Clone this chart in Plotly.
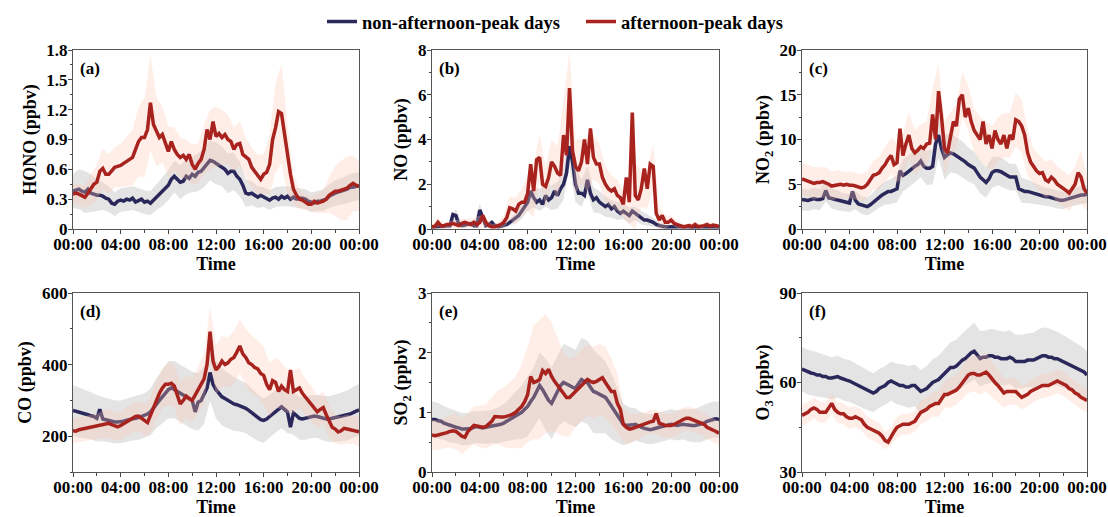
import numpy as np
import plotly.graph_objects as go

# ---------------- data (15-min means, 00:00 .. 24:00) ----------------
time_ticks = [0, 4, 8, 12, 16, 20, 24]
time_labels = ["00:00", "04:00", "08:00", "12:00", "16:00", "20:00", "00:00"]
series_names = ["non-afternoon-peak days", "afternoon-peak days"]
panel_labels = ["(a)", "(b)", "(c)", "(d)", "(e)", "(f)"]
y_titles = ["HONO (ppbv)", "NO (ppbv)", "NO<sub>2</sub> (ppbv)",
            "CO (ppbv)", "SO<sub>2</sub> (ppbv)", "O<sub>3</sub> (ppbv)"]

hono_non = [0.38,0.39,0.40,0.38, 0.37,0.40,0.36,0.35, 0.34,0.34,0.33,0.31, 0.30,0.26,0.25,0.28,
            0.29,0.28,0.30,0.29, 0.31,0.27,0.29,0.30, 0.27,0.28,0.26,0.29, 0.32,0.35,0.38,0.41,
            0.44,0.50,0.53,0.50, 0.47,0.48,0.53,0.51, 0.55,0.53,0.57,0.58, 0.62,0.65,0.69,0.68,
            0.66,0.65,0.63,0.60, 0.56,0.58,0.58,0.53, 0.50,0.44,0.36,0.35, 0.36,0.34,0.32,0.34,
            0.32,0.31,0.29,0.31, 0.32,0.30,0.33,0.31, 0.33,0.30,0.32,0.30, 0.31,0.31,0.30,0.28,
            0.27,0.26,0.28,0.28, 0.29,0.30,0.33,0.35, 0.36,0.37,0.38,0.39, 0.40,0.42,0.42,0.43, 0.43]
hono_peak = [0.35,0.36,0.35,0.33, 0.32,0.36,0.40,0.45, 0.47,0.58,0.61,0.55, 0.55,0.58,0.62,0.63,
             0.64,0.66,0.68,0.69, 0.72,0.80,0.88,0.92, 0.92,1.00,1.27,1.05, 0.98,0.92,0.95,0.85,
             0.78,0.88,0.80,0.75, 0.72,0.74,0.70,0.75, 0.65,0.60,0.66,0.70, 0.80,1.00,0.90,1.08,
             0.93,0.96,0.92,0.95, 0.90,0.88,0.80,0.85, 0.86,0.75,0.72,0.70, 0.62,0.58,0.55,0.50,
             0.55,0.57,0.65,0.90, 1.02,1.18,1.16,0.95, 0.70,0.55,0.40,0.34, 0.30,0.29,0.27,0.25,
             0.25,0.28,0.26,0.27, 0.28,0.30,0.34,0.36, 0.38,0.38,0.39,0.40, 0.41,0.44,0.46,0.44, 0.43]

no_non = [0.10,0.10,0.12,0.10, 0.12,0.15,0.15,0.65, 0.60,0.20,0.15,0.18, 0.20,0.25,0.15,0.15,
          0.85,0.50,0.15,0.20, 0.30,0.15,0.10,0.12, 0.15,0.20,0.30,0.40, 0.50,0.60,0.80,1.00,
          1.20,1.70,1.40,1.20, 1.30,1.10,1.50,1.30, 1.40,1.70,1.50,1.80, 2.00,2.50,3.70,3.00,
          2.00,1.60,1.60,1.50, 2.20,1.60,1.30,1.40, 1.20,1.10,1.00,1.10, 0.90,1.00,0.80,0.70,
          0.80,0.70,0.60,0.80, 0.70,0.60,0.50,0.40, 0.40,0.35,0.30,0.20, 0.15,0.12,0.10,0.10,
          0.10,0.10,0.12,0.10, 0.10,0.10,0.12,0.10, 0.10,0.10,0.10,0.12, 0.10,0.10,0.10,0.10, 0.10]
no_peak = [0.10,0.12,0.30,0.15, 0.15,0.20,0.20,0.25, 0.20,0.15,0.25,0.30, 0.25,0.20,0.30,0.20,
           0.30,0.60,0.30,0.15, 0.10,0.10,0.15,0.20, 0.30,0.50,0.95,0.90, 0.80,1.10,1.20,1.20,
           1.60,2.90,1.70,3.10, 3.20,2.00,1.90,2.30, 3.00,2.80,2.50,2.40, 4.20,3.30,6.30,3.50,
           2.80,2.60,3.00,4.00, 2.90,4.50,3.20,2.90, 2.90,2.30,2.00,1.80, 1.70,1.80,1.50,1.40,
           1.10,2.30,1.20,5.20, 1.50,1.30,1.80,2.70, 1.80,2.90,2.80,0.70, 0.40,0.60,0.30,0.30,
           0.40,0.25,0.20,0.15, 0.10,0.12,0.15,0.10, 0.20,0.10,0.12,0.15, 0.20,0.12,0.18,0.15, 0.12]

no2_non = [3.3,3.2,3.2,3.3, 3.4,3.3,3.3,3.4, 4.3,3.5,3.4,3.3, 3.2,3.1,3.0,2.9,
           2.9,4.2,3.2,2.8, 2.7,2.6,2.5,2.7, 3.0,3.3,3.6,3.8, 4.0,4.2,4.2,4.3,
           4.5,6.5,6.0,6.2, 6.5,6.8,7.0,7.2, 7.6,7.0,6.8,6.8, 7.0,9.5,10.5,9.0,
           8.0,8.3,8.5,8.4, 8.2,8.0,7.8,7.5, 7.2,7.0,6.8,6.3, 5.8,5.5,5.2,5.6,
           6.3,6.5,6.5,6.4, 6.2,6.0,5.8,5.8, 5.8,4.5,4.3,4.2, 4.2,4.1,4.0,3.9,
           3.8,3.7,3.6,3.6, 3.5,3.4,3.3,3.2, 3.2,3.3,3.5,3.5, 3.6,3.7,3.8,3.8, 3.9]
no2_peak = [5.6,5.5,5.4,5.2, 5.1,5.2,5.2,5.3, 5.2,5.0,4.8,4.9, 5.0,5.0,4.9,5.0,
            4.9,4.9,4.8,4.7, 4.6,4.7,5.0,5.5, 6.0,6.1,6.3,6.8, 7.2,7.8,8.2,7.2,
            7.4,11.2,8.2,9.5, 10.5,9.0,8.5,8.8, 9.2,9.0,9.5,9.6, 12.8,10.0,15.4,12.5,
            9.0,8.5,10.5,12.0, 11.5,14.5,15.0,12.5, 13.5,12.0,11.0,10.5, 10.0,12.0,9.5,10.5,
            9.0,11.0,10.0,9.5, 10.5,9.0,10.5,10.0, 12.2,12.0,11.5,10.5, 8.5,7.5,7.0,6.5,
            6.2,6.3,5.5,5.3, 5.8,5.5,5.0,4.8, 4.5,4.3,4.0,4.5, 5.0,6.3,5.8,4.5, 4.0]

co_non = [272,270,266,265, 262,260,257,255, 250,275,248,246, 243,242,240,240,
          240,242,245,246, 248,250,252,255, 258,262,268,280, 292,300,310,322,
          330,335,330,325, 320,315,310,305, 300,268,295,300, 315,335,378,345,
          330,320,310,305, 300,295,290,288, 285,282,278,272, 265,258,252,246,
          244,248,255,262, 270,278,282,275, 268,225,265,258, 250,248,250,252,
          255,256,255,252, 250,248,248,250, 250,252,254,256, 258,262,266,270, 274]
co_peak = [215,214,218,220, 222,222,225,226, 228,230,232,234, 236,232,228,226,
           230,235,240,245, 250,255,256,250, 245,238,258,280, 300,320,335,345,
           345,348,340,315, 290,300,312,305, 300,315,330,345, 360,400,492,410,
           385,395,410,400, 405,415,420,435, 452,430,420,405, 400,392,388,375,
           370,345,330,355, 350,325,340,330, 325,385,325,330, 335,320,310,300,
           290,280,268,275, 280,260,240,225, 220,212,215,222, 220,218,218,215, 212]

so2_non = [0.88,0.88,0.86,0.85, 0.82,0.80,0.78,0.77, 0.75,0.74,0.72,0.72, 0.72,0.73,0.75,0.76,
           0.75,0.74,0.75,0.76, 0.76,0.77,0.78,0.80, 0.82,0.85,0.88,0.92, 0.95,0.97,1.00,1.05,
           1.10,1.18,1.25,1.35, 1.45,1.38,1.30,1.20, 1.15,1.25,1.35,1.45, 1.50,1.48,1.45,1.42,
           1.40,1.48,1.55,1.52, 1.50,1.42,1.35,1.33, 1.30,1.28,1.25,1.18, 1.10,1.02,0.95,0.88,
           0.80,0.78,0.78,0.79, 0.80,0.77,0.75,0.73, 0.72,0.71,0.72,0.74, 0.75,0.76,0.78,0.79,
           0.80,0.79,0.78,0.79, 0.80,0.79,0.78,0.78, 0.78,0.79,0.80,0.82, 0.85,0.87,0.88,0.89, 0.88]
so2_peak = [0.62,0.61,0.62,0.63, 0.65,0.66,0.68,0.69, 0.68,0.64,0.60,0.58, 0.68,0.73,0.78,0.77,
            0.76,0.75,0.76,0.80, 0.85,0.93,0.92,0.92, 0.92,0.93,0.95,0.97, 1.00,1.05,1.10,1.18,
            1.30,1.60,1.50,1.52, 1.55,1.70,1.65,1.72, 1.60,1.52,1.45,1.38, 1.30,1.25,1.25,1.30,
            1.35,1.40,1.45,1.50, 1.55,1.52,1.50,1.52, 1.55,1.58,1.50,1.42, 1.35,1.35,1.15,1.05,
            0.80,0.75,0.72,0.73, 0.75,0.77,0.78,0.80, 0.82,0.84,0.85,0.98, 0.82,0.80,0.78,0.78,
            0.78,0.80,0.82,0.85, 0.88,0.90,0.90,0.88, 0.85,0.83,0.82,0.80, 0.75,0.73,0.70,0.68, 0.65]

o3_non = [64.5,64.0,63.5,63.2, 63.0,62.5,62.5,62.0, 62.0,61.5,61.5,61.8, 62.0,61.5,61.0,60.8,
          60.5,60.0,59.5,59.0, 58.5,58.0,57.5,57.0, 56.5,57.0,58.0,58.5, 59.0,60.0,60.5,60.0,
          59.5,59.0,59.0,58.5, 58.5,59.0,59.0,58.0, 57.0,57.5,58.0,59.0, 60.0,60.5,61.0,62.0,
          63.0,64.0,65.0,65.0, 65.5,66.5,67.5,68.0, 69.0,70.0,70.5,69.0, 68.0,68.5,68.5,69.0,
          69.0,68.5,68.5,68.0, 68.0,68.0,68.5,68.0, 67.0,67.0,67.0,67.0, 67.5,67.5,67.5,68.0,
          68.5,69.0,69.0,68.5, 68.5,68.0,68.0,67.5, 67.0,66.5,66.0,65.5, 65.0,64.5,64.0,63.5, 62.5]
o3_peak = [49.0,49.5,50.0,51.0, 51.5,51.0,50.0,50.0, 50.0,51.5,53.0,51.0, 50.0,49.5,49.5,48.5,
           48.0,48.0,48.5,48.0, 47.5,46.0,45.0,44.5, 44.0,43.5,43.0,42.0, 40.5,40.0,42.0,43.5,
           45.0,45.5,46.0,46.0, 46.0,46.5,47.0,48.5, 50.0,50.5,51.0,52.0, 52.5,53.0,53.0,54.5,
           56.0,56.0,56.5,57.0, 57.5,58.5,60.0,61.0, 62.5,63.0,63.0,62.5, 62.5,63.0,63.5,62.5,
           61.0,60.0,59.0,57.5, 56.5,57.0,57.0,57.0, 57.0,56.0,55.0,55.5, 56.0,57.0,57.5,58.0,
           58.5,59.0,59.0,59.0, 59.5,60.0,60.5,60.0, 59.5,59.0,58.0,57.5, 56.5,56.0,55.0,54.5, 54.0]

# half-width of the shaded bands (30-min steps, 00:00 .. 24:00)
hono_non_sd = [0.17,0.20,0.21,0.19,0.16,0.14,0.13,0.12,0.12,0.12,0.12,0.12,0.12,0.12,0.13,0.15,0.15,
               0.16,0.17,0.18,0.18,0.19,0.20,0.20,0.21,0.20,0.20,0.19,0.17,0.14,0.12,0.11,0.10,
               0.10,0.10,0.10,0.10,0.10,0.10,0.10,0.10,0.10,0.11,0.12,0.13,0.13,0.14,0.14,0.14]
hono_peak_sd = [0.10,0.10,0.12,0.15,0.18,0.20,0.20,0.20,0.22,0.25,0.28,0.35,0.40,0.48,0.35,0.28,0.25,
                0.22,0.20,0.20,0.20,0.20,0.25,0.30,0.30,0.28,0.25,0.22,0.22,0.20,0.20,0.20,0.20,
                0.30,0.45,0.50,0.35,0.15,0.10,0.08,0.08,0.10,0.12,0.18,0.25,0.30,0.32,0.28,0.25]
no_non_sd = [0.08,0.08,0.10,0.15,0.30,0.10,0.10,0.10,0.30,0.10,0.10,0.10,0.10,0.15,0.25,0.35,0.40,
             0.45,0.50,0.50,0.55,0.60,0.70,0.90,0.80,0.60,0.60,0.55,0.50,0.45,0.40,0.40,0.35,
             0.35,0.30,0.30,0.25,0.20,0.15,0.10,0.08,0.08,0.08,0.08,0.08,0.08,0.08,0.08,0.08]
no_peak_sd = [0.10,0.20,0.15,0.15,0.20,0.20,0.20,0.20,0.30,0.20,0.10,0.15,0.30,0.50,0.60,0.60,0.80,
              1.20,1.00,0.90,1.00,1.20,1.50,1.70,1.20,1.00,1.20,1.00,0.90,0.80,0.70,0.70,0.60,
              1.00,1.50,0.80,0.90,1.00,0.60,0.30,0.20,0.15,0.10,0.10,0.10,0.10,0.10,0.10,0.10]
no2_non_sd = [1.2,1.2,1.2,1.2,1.2,1.1,1.1,1.0,1.0,1.0,1.0,1.0,1.1,1.2,1.3,1.4,1.5,
              1.8,1.8,1.8,1.8,1.9,2.0,2.5,2.5,2.2,2.0,2.0,1.9,1.8,1.8,1.7,1.7,
              1.6,1.6,1.5,1.5,1.4,1.3,1.2,1.1,1.0,1.0,1.0,1.0,1.0,1.0,1.0,1.0]
no2_peak_sd = [1.8,1.8,1.8,1.7,1.7,1.6,1.6,1.5,1.5,1.5,1.5,1.5,1.6,1.8,2.0,2.0,2.2,
               2.5,2.5,2.5,2.5,2.5,3.0,3.0,3.0,2.5,2.5,2.5,2.5,2.5,2.5,2.5,2.5,
               2.5,2.5,2.5,3.0,3.0,2.5,2.0,2.0,2.0,2.0,2.0,2.0,2.0,2.0,3.0,2.0]
co_non_sd = [70,70,68,66,65,62,60,60,60,60,60,62,62,65,70,75,80,
             80,80,80,80,80,80,80,80,80,78,75,72,70,68,65,62,
             60,60,60,60,60,60,60,60,60,62,64,66,68,70,72,72]
co_peak_sd = [35,35,35,35,35,40,40,40,40,40,40,40,45,50,55,55,60,
              60,60,60,60,65,70,70,70,70,70,75,75,80,80,80,80,
              75,70,65,60,60,55,50,50,45,45,45,40,40,40,40,40]
so2_non_sd = [0.30,0.30,0.28,0.28,0.27,0.27,0.27,0.27,0.27,0.28,0.28,0.30,0.32,0.35,0.40,0.45,0.50,
              0.50,0.55,0.60,0.60,0.60,0.65,0.65,0.65,0.70,0.70,0.70,0.65,0.60,0.55,0.45,0.35,
              0.30,0.27,0.25,0.25,0.25,0.25,0.25,0.25,0.25,0.25,0.27,0.28,0.30,0.30,0.30,0.30]
so2_peak_sd = [0.25,0.25,0.25,0.27,0.30,0.30,0.30,0.32,0.35,0.37,0.40,0.45,0.50,0.55,0.60,0.70,0.80,
               0.95,1.00,1.00,0.90,0.80,0.70,0.65,0.60,0.60,0.60,0.60,0.60,0.60,0.55,0.50,0.30,
               0.25,0.22,0.20,0.20,0.20,0.20,0.20,0.20,0.20,0.20,0.20,0.20,0.20,0.20,0.20,0.20]
o3_non_sd = [7.5,7.5,7.5,7.3,7.2,7.0,7.0,7.0,7.0,7.0,6.8,6.7,6.5,6.5,6.5,6.5,6.8,
             7.0,7.0,7.0,7.2,7.5,7.8,8.0,8.2,8.5,8.8,9.0,9.3,9.5,9.3,9.0,9.0,
             9.0,9.0,9.0,9.0,9.0,9.0,9.2,9.5,9.5,9.3,9.0,8.8,8.6,8.4,8.2,8.0]
o3_peak_sd = [3.5,3.5,3.5,3.5,3.5,3.5,3.5,3.5,3.5,3.5,3.5,3.5,3.5,3.5,3.0,3.0,3.5,
              3.5,3.5,3.5,4.0,4.0,4.0,4.5,4.5,5.0,5.0,5.5,6.0,6.0,6.5,6.5,6.0,
              5.5,5.0,4.5,4.5,4.0,4.0,4.0,4.0,4.0,4.0,4.0,4.0,4.0,4.0,4.0,4.0]

y_ranges = [(0, 1.8), (0, 8), (0, 20), (100, 600), (0, 3), (30, 90)]
y_tick0 = [0, 0, 0, 200, 0, 30]
y_dtick = [0.3, 2, 5, 200, 1, 30]

non_series = [hono_non, no_non, no2_non, co_non, so2_non, o3_non]
peak_series = [hono_peak, no_peak, no2_peak, co_peak, so2_peak, o3_peak]
non_sd = [hono_non_sd, no_non_sd, no2_non_sd, co_non_sd, so2_non_sd, o3_non_sd]
peak_sd = [hono_peak_sd, no_peak_sd, no2_peak_sd, co_peak_sd, so2_peak_sd, o3_peak_sd]

for s in non_series + peak_series:
    assert len(s) == 97, len(s)
for s in non_sd + peak_sd:
    assert len(s) == 49, len(s)

# ---------------- figure ----------------
W, H = 1108, 517
t15 = np.arange(97) * 0.25
t30 = np.arange(49) * 0.5

NAVY = "#2a285a"
RED = "#a8221e"
GRAY_FILL = "rgba(195,195,195,0.45)"
PEACH_FILL = "rgba(255,200,180,0.30)"
FONT = "Liberation Serif, Times New Roman, serif"

x_px = [(73, 359), (432, 719), (802, 1087)]
y_px = [(50, 229), (293, 472)]

fig = go.Figure()


def band(sd_vals, center, fill, xa, ya):
    c = np.asarray(center)[::2]
    sd = np.asarray(sd_vals)
    return go.Scatter(x=np.concatenate([t30, t30[::-1]]),
                      y=np.concatenate([c + sd, (c - sd)[::-1]]),
                      fill="toself", fillcolor=fill, line=dict(width=0),
                      mode="lines", hoverinfo="skip", showlegend=False,
                      xaxis=xa, yaxis=ya)


annotations = []
for i in range(6):
    r, c = divmod(i, 3)
    sfx = "" if i == 0 else str(i + 1)
    xa, ya = "x" + sfx, "y" + sfx
    fig.add_trace(band(non_sd[i], non_series[i], GRAY_FILL, xa, ya))
    fig.add_trace(go.Scatter(x=t15, y=non_series[i], mode="lines",
                             line=dict(color=NAVY, width=3.5),
                             name=series_names[0], legendgroup="non",
                             showlegend=(i == 0), xaxis=xa, yaxis=ya))
    fig.add_trace(band(peak_sd[i], peak_series[i], PEACH_FILL, xa, ya))
    fig.add_trace(go.Scatter(x=t15, y=peak_series[i], mode="lines",
                             line=dict(color=RED, width=3.5),
                             name=series_names[1], legendgroup="peak",
                             showlegend=(i == 0), xaxis=xa, yaxis=ya))

    x0, x1 = x_px[c]
    y0, y1 = y_px[r]
    ymin, ymax = y_ranges[i]
    fig.update_layout(**{
        "xaxis" + sfx: dict(
            domain=[x0 / W, x1 / W], anchor=ya, range=[0, 24],
            tickmode="array", tickvals=time_ticks, ticktext=time_labels,
            ticks="outside", ticklen=4, tickwidth=1, tickcolor="#444",
            ticklabelstandoff=-4,
            minor=dict(tickmode="array", tickvals=[2, 6, 10, 14, 18, 22],
                       ticks="outside", ticklen=2.5, tickcolor="#444"),
            showline=True, linecolor="#555", linewidth=1, mirror=True,
            showgrid=False, zeroline=False, automargin=False,
            tickfont=dict(family=FONT, size=17, color="black", weight="bold"),
            title=dict(text="Time", standoff=3,
                       font=dict(family=FONT, size=18, color="black", weight="bold")),
        ),
        "yaxis" + sfx: dict(
            domain=[1 - y1 / H, 1 - y0 / H], anchor=xa, range=[ymin, ymax],
            tickmode="linear", tick0=y_tick0[i], dtick=y_dtick[i],
            ticks="outside", ticklen=4, tickwidth=1, tickcolor="#444",
            ticklabelstandoff=-3,
            minor=dict(dtick=y_dtick[i] / 2, tick0=ymin,
                       ticks="outside", ticklen=2.5, tickcolor="#444"),
            showline=True, linecolor="#555", linewidth=1, mirror=True,
            showgrid=False, zeroline=False, automargin=False,
            tickfont=dict(family=FONT, size=17, color="black", weight="bold"),
            title=dict(text=y_titles[i], standoff=5,
                       font=dict(family=FONT, size=18, color="black", weight="bold")),
        ),
    })
    annotations.append(dict(text=panel_labels[i], xref=xa + " domain", yref=ya + " domain",
                            x=0.018, y=0.96, xanchor="left", yanchor="top", showarrow=False,
                            font=dict(family=FONT, size=17, color="black", weight="bold")))

fig.update_layout(
    template="none",
    width=W, height=H, autosize=False,
    margin=dict(l=0, r=0, t=0, b=0),
    paper_bgcolor="white", plot_bgcolor="white",
    font=dict(family=FONT, color="black"),
    annotations=annotations,
    legend=dict(orientation="h", x=322 / W, xanchor="left", y=1 - 22 / H, yanchor="middle",
                font=dict(family=FONT, size=18.5, color="black", weight="bold"),
                bgcolor="rgba(0,0,0,0)", entrywidth=214, entrywidthmode="pixels",
                traceorder="normal"),
    showlegend=True,
)

fig.write_html("out.html", config={"displayModeBar": False},
               post_script="document.body.style.margin='0';")
